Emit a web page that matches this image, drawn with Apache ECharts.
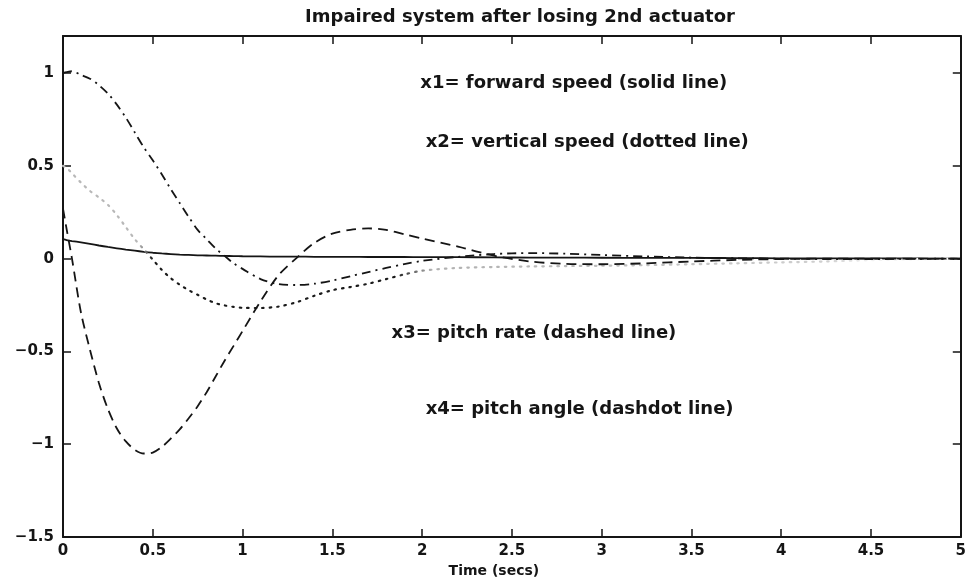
<!DOCTYPE html>
<html>
<head>
<meta charset="utf-8">
<script src="https://cdn.jsdelivr.net/npm/echarts@6/dist/echarts.min.js"></script>
<style>
html,body{margin:0;padding:0;background:#fff;}
#chart{width:969px;height:584px;}
</style>
</head>
<body>
<div id="chart"></div>
<script>
// time samples (secs)
var timeSecs = [0, 0.02, 0.05, 0.1, 0.15, 0.2, 0.25, 0.3, 0.35, 0.4, 0.45, 0.5, 0.55, 0.6, 0.65, 0.7, 0.75, 0.8, 0.85, 0.9, 0.95, 1.0, 1.1, 1.2, 1.3, 1.4, 1.5, 1.6, 1.7, 1.8, 1.9, 2.0, 2.2, 2.4, 2.6, 2.8, 3.0, 3.25, 3.5, 3.75, 4.0, 4.25, 4.5, 4.75, 5.0];
// x1 forward speed (solid)
var x1Forward = [0.105, 0.1, 0.095, 0.088, 0.08, 0.071, 0.063, 0.056, 0.049, 0.043, 0.037, 0.032, 0.028, 0.025, 0.022, 0.02, 0.018, 0.017, 0.016, 0.015, 0.014, 0.013, 0.012, 0.011, 0.011, 0.01, 0.01, 0.01, 0.009, 0.009, 0.009, 0.008, 0.008, 0.007, 0.006, 0.006, 0.005, 0.004, 0.004, 0.003, 0.002, 0.002, 0.001, 0.001, 0.0];
// x2 vertical speed (dotted)
var x2Vertical = [0.5, 0.49, 0.46, 0.41, 0.365, 0.33, 0.29, 0.235, 0.17, 0.105, 0.05, -0.005, -0.06, -0.105, -0.14, -0.17, -0.195, -0.22, -0.24, -0.252, -0.26, -0.265, -0.266, -0.258, -0.235, -0.2, -0.17, -0.153, -0.135, -0.11, -0.085, -0.065, -0.05, -0.045, -0.042, -0.04, -0.038, -0.035, -0.03, -0.025, -0.02, -0.015, -0.008, -0.003, 0.0];
// x3 pitch rate (dashed)
var x3PitchRate = [0.27, 0.16, 0.0, -0.29, -0.49, -0.67, -0.81, -0.915, -0.985, -1.03, -1.05, -1.045, -1.015, -0.97, -0.92, -0.86, -0.795, -0.72, -0.635, -0.55, -0.47, -0.39, -0.23, -0.09, 0.003, 0.085, 0.135, 0.155, 0.163, 0.155, 0.132, 0.108, 0.065, 0.016, -0.015, -0.028, -0.03, -0.025, -0.015, -0.007, -0.002, 0.0, 0.0, 0.0, 0.0];
// x4 pitch angle (dashdot)
var x4PitchAngle = [1.0, 1.005, 1.01, 0.99, 0.97, 0.935, 0.89, 0.83, 0.76, 0.68, 0.6, 0.53, 0.455, 0.375, 0.3, 0.225, 0.155, 0.105, 0.055, 0.015, -0.025, -0.055, -0.11, -0.137, -0.142, -0.135, -0.118, -0.095, -0.072, -0.05, -0.03, -0.012, 0.01, 0.025, 0.03, 0.027, 0.02, 0.012, 0.006, 0.002, 0.0, -0.002, -0.002, -0.001, 0.0];

var xTicks = [0, 0.5, 1, 1.5, 2, 2.5, 3, 3.5, 4, 4.5, 5];
var yTicks = [-1.5, -1, -0.5, 0, 0.5, 1];
var yTop = 1.2;

var noteTexts = ['x1= forward speed (solid line)', 'x2= vertical speed (dotted line)', 'x3= pitch rate (dashed line)', 'x4= pitch angle (dashdot line)'];
var noteTime = [1.99, 2.02, 1.83, 2.02];
var noteValue = [0.944, 0.625, -0.40, -0.81];

function pairs(vals) { return timeSecs.map(function (t, i) { return [t, vals[i]]; }); }
function fmt(v) { return String(v).replace('-', '\u2212'); }

var FONT = 'DejaVu Sans';
var INK = '#151515';
function axisBase(extra) {
  return Object.assign({
    type: 'value',
    axisLine: { show: true, onZero: false, lineStyle: { color: INK, width: 2 } },
    axisTick: { show: true, inside: true, length: 8, lineStyle: { color: INK, width: 1.5 } },
    splitLine: { show: false }
  }, extra);
}

var chart = echarts.init(document.getElementById('chart'), null, { renderer: 'canvas' });
var dotColor = new echarts.graphic.LinearGradient(63, 0, 961, 0, [
  { offset: 0, color: '#b8b8b8' },
  { offset: 0.085, color: '#b8b8b8' },
  { offset: 0.1, color: '#1a1a1a' },
  { offset: 0.37, color: '#1a1a1a' },
  { offset: 0.41, color: '#b0b0b0' },
  { offset: 0.85, color: '#cfcfcf' },
  { offset: 0.9, color: '#f2f2f2' },
  { offset: 1, color: '#f5f5f5' }
], true);

chart.setOption({
  animation: false,
  backgroundColor: '#fff',
  title: {
    text: 'Impaired system after losing 2nd actuator',
    left: 515, top: 3, textAlign: 'center',
    textStyle: { fontFamily: FONT, fontWeight: 'bold', fontSize: 18, color: INK }
  },
  grid: { left: 63, right: 8, top: 36, bottom: 47 },
  xAxis: [
    axisBase({
      min: xTicks[0], max: xTicks[xTicks.length - 1], interval: 0.5,
      name: 'Time (secs)', nameLocation: 'middle', nameGap: 24,
      nameTextStyle: { fontFamily: FONT, fontWeight: 'bold', fontSize: 14, color: INK, padding: [0, 36, 0, 0] },
      axisLabel: { margin: 7, fontFamily: FONT, fontWeight: 'bold', fontSize: 15, color: INK, formatter: fmt }
    }),
    axisBase({
      position: 'top', min: xTicks[0], max: xTicks[xTicks.length - 1], interval: 0.5,
      axisLabel: { show: false }
    })
  ],
  yAxis: [
    axisBase({
      min: yTicks[0], max: yTop, interval: 0.5,
      axisLabel: { margin: 9, showMaxLabel: false, fontFamily: FONT, fontWeight: 'bold', fontSize: 15, color: INK, formatter: fmt }
    }),
    axisBase({
      position: 'right', min: yTicks[0], max: yTop, interval: 0.5,
      axisLabel: { show: false }
    })
  ],
  series: [
    { name: 'x1', type: 'line', data: pairs(x1Forward), smooth: 0.3, showSymbol: false,
      lineStyle: { color: INK, width: 1.8, type: 'solid' } },
    { name: 'x2', type: 'line', data: pairs(x2Vertical), smooth: 0.3, showSymbol: false,
      lineStyle: { color: dotColor, width: 2.2, type: [1.5, 6], cap: 'round' } },
    { name: 'x3', type: 'line', data: pairs(x3PitchRate), smooth: 0.3, showSymbol: false,
      lineStyle: { color: INK, width: 1.8, type: [10, 6] } },
    { name: 'x4', type: 'line', data: pairs(x4PitchAngle), smooth: 0.3, showSymbol: false,
      lineStyle: { color: INK, width: 1.8, type: [9, 5, 2, 5] } },
    { name: 'notes', type: 'scatter', symbolSize: 0, silent: true,
      itemStyle: { opacity: 1 },
      data: noteTexts.map(function (s, i) { return { value: [noteTime[i], noteValue[i]], name: s }; }),
      label: { show: true, position: 'right', distance: 0, formatter: '{b}', opacity: 1,
        fontFamily: FONT, fontWeight: 'bold', fontSize: 18, color: INK } }
  ]
});
</script>
</body>
</html>
